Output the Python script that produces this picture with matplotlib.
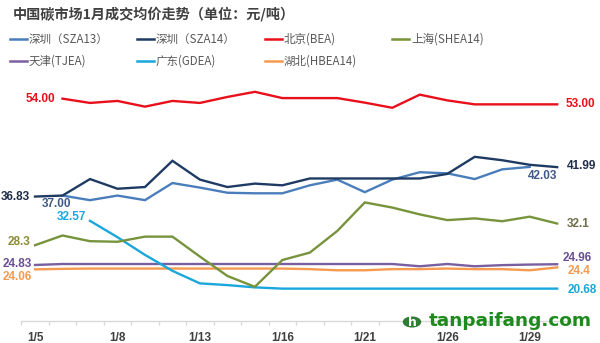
import matplotlib
matplotlib.use('Agg')
import matplotlib.pyplot as plt
from matplotlib.lines import Line2D
from matplotlib.patches import Circle
import numpy as np

N = np.nan
dates = ['1/5', '1/6', '1/7', '1/8', '1/9', '1/12', '1/13', '1/14', '1/15', '1/16',
         '1/19', '1/20', '1/21', '1/22', '1/23', '1/26', '1/27', '1/28', '1/29', '1/30']

sza13 = [N, 37.00, 36.2, 37.0, 36.2, 39.2, 38.4, 37.5, 37.4, 37.4,
         38.8, 39.8, 37.6, 39.8, 41.1, 40.9, 39.9, 41.6, 42.03, N]
sza14 = [36.83, 37.0, 39.9, 38.2, 38.5, 43.1, 39.8, 38.5, 39.1, 38.8,
         40.0, 40.0, 40.0, 40.0, 40.0, 40.8, 43.8, 43.2, 42.4, 41.99]
bea = [N, 54.00, 53.25, 53.6, 52.6, 53.6, 53.25, 54.3, 55.2, 54.1,
       54.1, 54.1, 53.3, 52.4, 54.7, 53.7, 53.0, 53.0, 53.0, 53.00]
shea14 = [28.3, 30.0, 29.0, 28.9, 29.8, 29.8, 26.3, 22.9, 21.0, 25.7,
          27.0, 30.8, 35.8, 34.9, 33.7, 32.7, 33.0, 32.5, 33.3, 32.1]
tjea = [24.83, 25.0, 25.0, 25.0, 25.0, 25.0, 25.0, 25.0, 25.0, 25.0,
        25.0, 25.0, 25.0, 25.0, 24.6, 25.0, 24.6, 24.8, 24.9, 24.96]
gdea = [N, N, 32.57, 29.7, 26.6, 23.8, 21.6, 21.3, 20.9, 20.68,
        20.68, 20.68, 20.68, 20.68, 20.68, 20.68, 20.68, 20.68, 20.68, 20.68]
hbea14 = [24.06, 24.15, 24.2, 24.2, 24.2, 24.2, 24.2, 24.2, 24.2, 24.2,
          24.1, 23.9, 23.9, 24.1, 24.1, 24.2, 24.1, 24.1, 23.9, 24.4]

names = ['深圳（SZA13）', '深圳（SZA14）', '北京(BEA)', '上海(SHEA14)',
         '天津(TJEA)', '广东(GDEA)', '湖北(HBEA14)']
series = [sza13, sza14, bea, shea14, tjea, gdea, hbea14]
colors = ['#4a7ebb', '#1f3b63', '#e8101a', '#77933c', '#7a5fa0', '#1aa7dc', '#f59a4e']

plt.rcParams['font.family'] = ['Noto Sans CJK SC', 'DejaVu Sans']

fig = plt.figure(figsize=(6, 3.43), dpi=100)
fig.patch.set_facecolor('white')
ax = fig.add_axes([0.0355, 0.0641, 0.916, 0.748])
ax.set_facecolor('none')

x = np.arange(len(dates))
order = [4, 6, 5, 3, 0, 1, 2]
for i in order:
    ax.plot(x, series[i], color=colors[i], lw=1.7, solid_joinstyle='miter', zorder=3)

ax.set_xlim(-0.5, len(dates) - 0.5)
ax.set_ylim(15, 60)
ax.set_yticks([])
for s in ['top', 'right', 'left']:
    ax.spines[s].set_visible(False)
ax.spines['bottom'].set_color('#d9d9d9')
ax.spines['bottom'].set_linewidth(1.0)
ax.set_xticks(np.arange(-0.5, len(dates), 1.0), minor=True)
ax.set_xticks(x[::3])
ax.set_xticklabels(dates[::3])
ax.tick_params(axis='x', which='major', length=0, pad=8, labelsize=8.5,
               labelcolor='#404040')
ax.tick_params(axis='x', which='minor', length=3, color='#d9d9d9', width=1)
for t in ax.get_xticklabels():
    t.set_fontweight('bold')
    t.set_family(['Liberation Sans', 'DejaVu Sans'])

lab_font = dict(fontsize=8.5, fontweight='bold', family=['Liberation Sans', 'DejaVu Sans'])
labels = [
    ('54.00', 1, bea[1], -7, 0, 'right', '#e8101a'),
    ('53.00', 19, bea[19], 8, 0, 'left', '#e8101a'),
    ('36.83', 0, sza14[0], -5, 0, 'right', '#1f2d4a'),
    ('37.00', 1, sza13[1], -6, -8, 'center', '#3f5a88'),
    ('32.57', 2, gdea[2], -4, 4, 'right', '#1aa7dc'),
    ('28.3', 0, shea14[0], -5, 3, 'right', '#8c8c35'),
    ('24.83', 0, tjea[0], -3, 1, 'right', '#6a4f94'),
    ('24.06', 0, hbea14[0], -3, -8, 'right', '#f59a4e'),
    ('42.03', 18, sza13[18], 13, -9, 'center', '#3f5a88'),
    ('41.99', 19, sza14[19], 10, 1, 'left', '#1f2d4a'),
    ('32.1', 19, shea14[19], 10, 0, 'left', '#6f6f4c'),
    ('24.96', 19, tjea[19], 5, 6, 'left', '#6a4f94'),
    ('24.4', 19, hbea14[19], 10, -4, 'left', '#f59a4e'),
    ('20.68', 19, gdea[19], 10, -1, 'left', '#1aa7dc'),
]
for txt, xi, yi, dx, dy, ha, c in labels:
    ax.annotate(txt, (xi, yi), xytext=(dx, dy), textcoords='offset pixels',
                ha=ha, va='center', color=c, zorder=5, **lab_font)

W, H = 600.0, 343.0
fig.text(13 / W, 1 - 14 / H, '中国碳市场1月成交均价走势（单位：元/吨）', fontsize=10.2,
         fontweight='bold', color='#404040', ha='left', va='center')

leg_x = [10, 137, 265, 392]
leg_y = [39, 61]
for k, (nm, c) in enumerate(zip(names, colors)):
    r, col = divmod(k, 4)
    x0 = leg_x[col]
    y0 = 1 - leg_y[r] / H
    fig.add_artist(Line2D([x0 / W, (x0 + 17) / W], [y0, y0], color=c, lw=1.8,
                          transform=fig.transFigure))
    fig.text((x0 + 19) / W, y0, nm, fontsize=8.3, color='#595959', ha='left', va='center')

# logo
fig.add_artist(Circle((412 / W, 1 - 322 / H), 8.5 / W, transform=fig.transFigure,
                      color='#2e7d32', zorder=6))
fig.text(412 / W, 1 - 322 / H, 'h', color='white', fontsize=9, fontweight='bold',
         ha='center', va='center', zorder=7, family='DejaVu Sans')
fig.text(429 / W, 1 - 321 / H, 'tanpaifang.com', color='#1e8a1e', fontsize=13.3,
         fontweight='bold', ha='left', va='center', family='DejaVu Sans', zorder=7)

fig.savefig('out.png', dpi=100, facecolor='white')
